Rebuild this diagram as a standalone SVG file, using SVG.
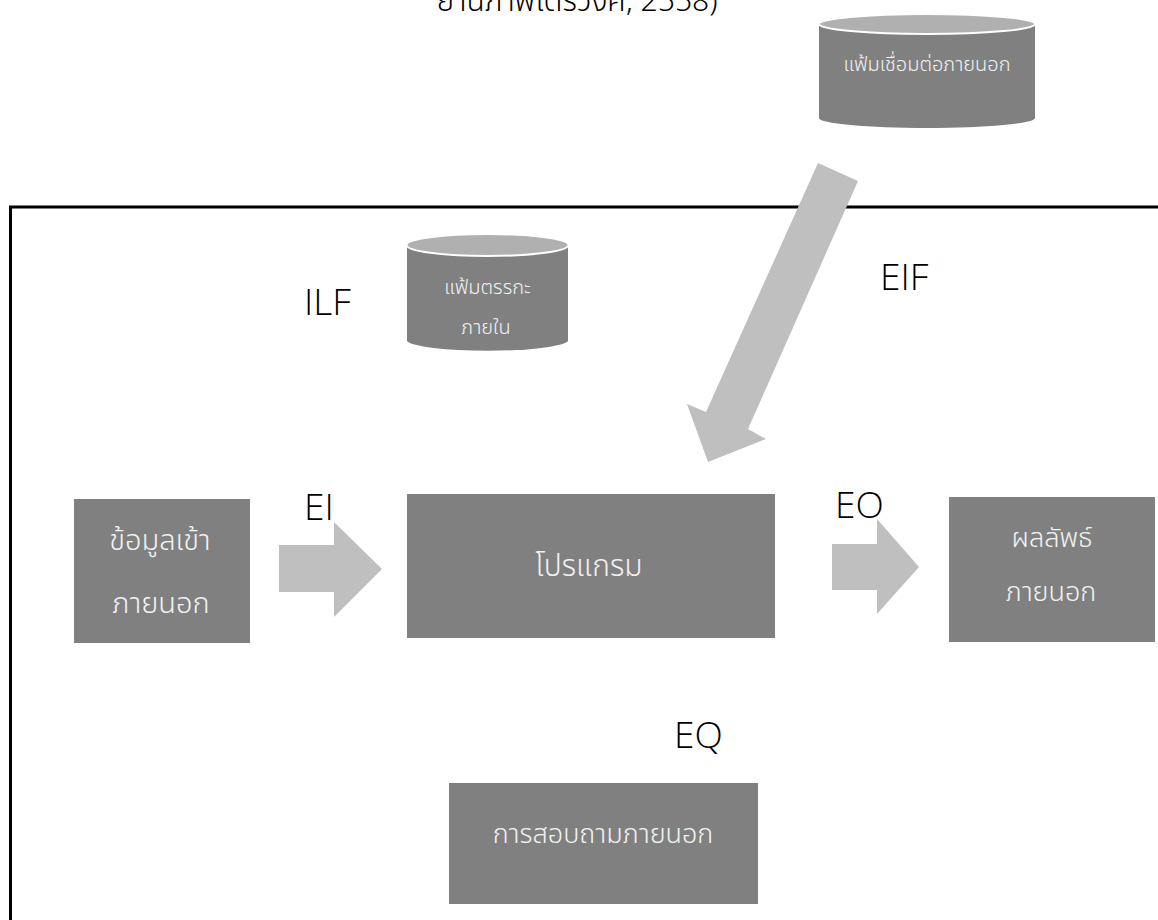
<svg xmlns="http://www.w3.org/2000/svg" width="1158" height="920" viewBox="0 0 1158 920">
<style>
.box{fill:#808080}
.arrow{fill:#BFBFBF}
.cyl-body{fill:#808080}
.cyl-top{fill:#B0B0B0;stroke:#FFFFFF;stroke-width:2}
.lbl{font-family:"Open Sans","DejaVu Sans",sans-serif;font-weight:300;font-size:37px;fill:#000}
.th{font-family:"Noto Sans Thai","Noto Sans Thai UI","Loma","Garuda","Noto Sans",sans-serif;font-weight:300;fill:#F2F2F2;text-anchor:middle}
.cap{font-family:"Noto Sans Thai","Noto Sans Thai UI","Loma","Garuda","Noto Sans",sans-serif;font-weight:300;fill:#000;font-size:30px;text-anchor:middle}
</style>
<rect width="1158" height="920" fill="#FFFFFF"/>
<text class="cap" x="577" y="11">ยานภาพโตรวงศ์, 2558)</text>
<rect id="frame" x="10.5" y="207" width="1160" height="730" fill="none" stroke="#000" stroke-width="3"/>
<g id="connectors">
<polygon class="arrow" points="279,545 334,545 334,522 382,569 334,617 334,592 279,592"/>
<polygon class="arrow" points="832,544 877,544 877,519 919,567 877,614 877,590 832,590"/>
<polygon class="arrow" points="818,163 858,181 748,429 766,439 708,462 687,404 706,412"/>
</g>
<g id="ext-file">
<path class="cyl-body" d="M819,24 L819,118 A108,10 0 0 0 1035,118 L1035,24 Z"/>
<ellipse class="cyl-top" cx="927" cy="24" rx="108" ry="10"/>
<text class="th" x="927" y="71" font-size="20">แฟ้มเชื่อมต่อภายนอก</text>
</g>
<g id="int-file">
<path class="cyl-body" d="M407,245 L407,341 A81,11 0 0 0 568,341 L568,245 Z"/>
<ellipse class="cyl-top" cx="487.5" cy="245" rx="81" ry="11"/>
<text class="th" x="487.5" y="294" font-size="20">แฟ้มตรรกะ</text>
<text class="th" x="486" y="334" font-size="20">ภายใน</text>
</g>
<g id="label-ilf"><text class="lbl" x="304" y="315">ILF</text></g>
<g id="label-eif"><text class="lbl" x="880" y="290">EIF</text></g>
<g id="label-ei"><text class="lbl" x="304" y="520">EI</text></g>
<g id="label-eo"><text class="lbl" x="835" y="518">EO</text></g>
<g id="label-eq"><text class="lbl" x="674" y="748">EQ</text></g>
<g id="input">
<rect class="box" x="74" y="499" width="176" height="144"/>
<text class="th" x="160" y="550" font-size="29">ข้อมูลเข้า</text>
<text class="th" x="161" y="613" font-size="29">ภายนอก</text>
</g>
<g id="program">
<rect class="box" x="407" y="494" width="368" height="144"/>
<text class="th" x="589" y="576" font-size="30">โปรแกรม</text>
</g>
<g id="output">
<rect class="box" x="949" y="497" width="206" height="145"/>
<text class="th" x="1052" y="547" font-size="27">ผลลัพธ์</text>
<text class="th" x="1051" y="601" font-size="27">ภายนอก</text>
</g>
<g id="inquiry">
<rect class="box" x="449" y="783" width="309" height="121"/>
<text class="th" x="603" y="843" font-size="27">การสอบถามภายนอก</text>
</g>
</svg>
